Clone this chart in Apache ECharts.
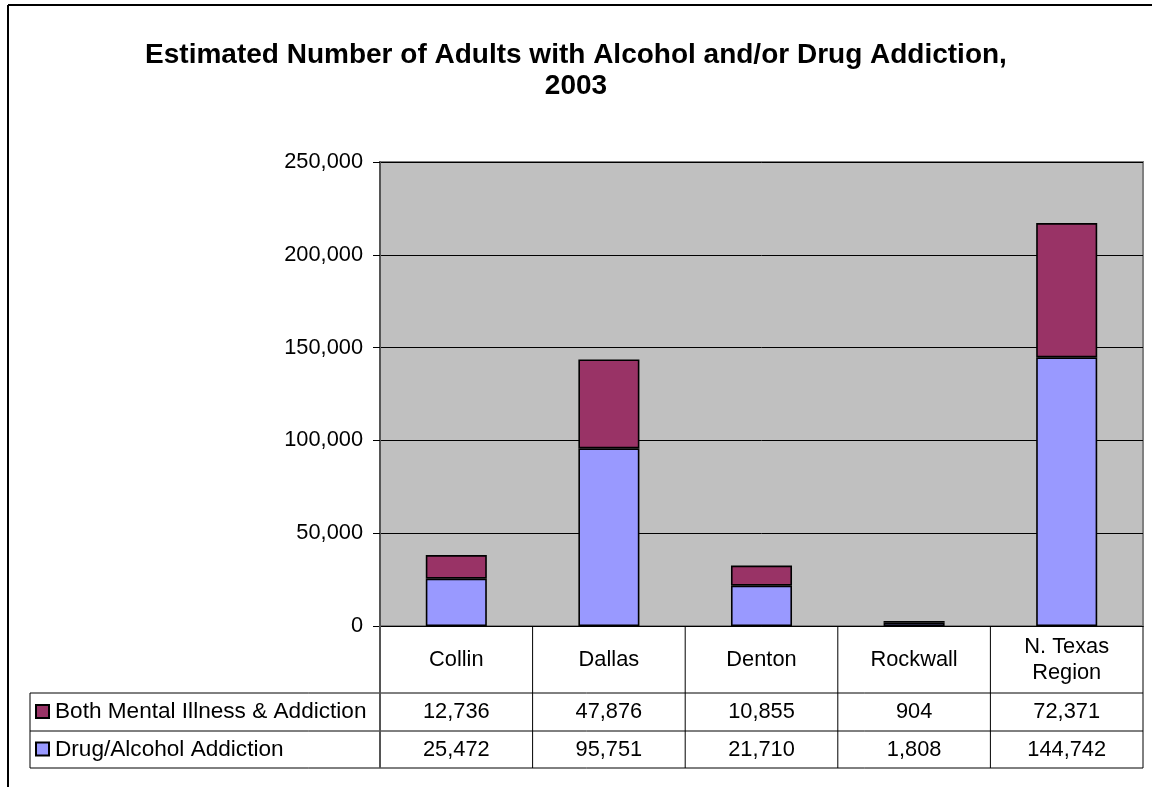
<!DOCTYPE html>
<html>
<head>
<meta charset="utf-8">
<script src="https://cdn.jsdelivr.net/npm/echarts@6/dist/echarts.min.js"></script>
<style>
html,body{margin:0;padding:0;background:#fff;}
#chart{width:1152px;height:787px;}
</style>
</head>
<body>
<div id="chart"></div>
<script>
const titleText = 'Estimated Number of Adults with Alcohol and/or Drug Addiction,\n2003';
const categories = ['Collin', 'Dallas', 'Denton', 'Rockwall', 'N. Texas\nRegion'];
const drugAlcohol = [25472, 95751, 21710, 1808, 144742];
const bothMental = [12736, 47876, 10855, 904, 72371];
const nameDrug = 'Drug/Alcohol Addiction';
const nameBoth = 'Both Mental Illness & Addiction';
const yMin = 0, yMax = 250000, yInterval = 50000;

const colorDrug = '#9999ff';
const colorBoth = '#993366';
const FONT = '"Liberation Sans", Arial, sans-serif';
const FS = 21.8;

const chart = echarts.init(document.getElementById('chart'), null, {renderer: 'canvas'});
const fmt = v => v.toLocaleString('en-US');

chart.setOption({
  animation: false,
  backgroundColor: '#fff',
  textStyle: {fontFamily: FONT},
  grid: {
    left: 380, right: 9, top: 162, bottom: 161,
    show: true, backgroundColor: '#c0c0c0', borderColor: '#808080', borderWidth: 2
  },
  xAxis: {
    type: 'category',
    data: categories,
    axisLine: {show: true, lineStyle: {color: '#000', width: 1}},
    axisTick: {show: false},
    axisLabel: {
      show: true, interval: 0, margin: 34, verticalAlign: 'middle',
      fontFamily: FONT, fontSize: FS, color: '#000', lineHeight: 26
    },
    splitLine: {show: false}
  },
  yAxis: {
    type: 'value',
    min: yMin, max: yMax, interval: yInterval,
    axisLine: {show: true, lineStyle: {color: '#555', width: 2}},
    axisTick: {show: true, length: 7, lineStyle: {color: '#000', width: 1}},
    axisLabel: {margin: 17, fontFamily: FONT, fontSize: FS, color: '#000', formatter: v => fmt(v)},
    splitLine: {show: true, lineStyle: {color: '#000', width: 1}}
  },
  series: [
    {
      name: nameDrug, type: 'bar', stack: 'total', data: drugAlcohol,
      barWidth: '40%',
      itemStyle: {color: colorDrug, borderColor: '#000', borderWidth: 1.6}
    },
    {
      name: nameBoth, type: 'bar', stack: 'total', data: bothMental,
      barWidth: '40%',
      itemStyle: {color: colorBoth, borderColor: '#000', borderWidth: 1.6}
    }
  ]
});

// Data table below the plot, positioned from the category axis scale
const cx = categories.map((c, i) => chart.convertToPixel({xAxisIndex: 0}, i));
const band = cx.length > 1 ? cx[1] - cx[0] : 150;
const bounds = cx.map(c => c - band / 2);
bounds.push(cx[cx.length - 1] + band / 2);
const axisY = chart.convertToPixel({yAxisIndex: 0}, 0);
const row1Top = axisY + 67, row2Top = axisY + 105, tableBottom = axisY + 142;
const tableLeft = 30;
const g = [];
const lineStyle = {stroke: '#000', lineWidth: 1};
function line(x1, y1, x2, y2, style) {
  g.push({type: 'line', shape: {x1, y1, x2, y2}, style: style || lineStyle, z: 100, silent: true});
}
// title
g.push({type: 'text', x: 576, y: 40, style: {text: titleText, font: 'bold 28px ' + FONT, fill: '#000',
  textAlign: 'center', textVerticalAlign: 'top', lineHeight: 31}, z: 100, silent: true});
// horizontal lines
line(tableLeft, row1Top, bounds[bounds.length - 1], row1Top);
line(tableLeft, row2Top, bounds[bounds.length - 1], row2Top);
line(tableLeft, tableBottom, bounds[bounds.length - 1], tableBottom);
// vertical lines
line(tableLeft, row1Top, tableLeft, tableBottom);
bounds.forEach((b, i) => {
  if (i === 0) line(b, axisY, b, tableBottom, {stroke: '#555', lineWidth: 2});
  else line(b, axisY, b, tableBottom);
});
const rows = [
  {name: nameBoth, color: colorBoth, values: bothMental, top: row1Top, bottom: row2Top},
  {name: nameDrug, color: colorDrug, values: drugAlcohol, top: row2Top, bottom: tableBottom}
];
rows.forEach(r => {
  const cy = (r.top + r.bottom) / 2;
  g.push({type: 'rect', shape: {x: 36, y: cy - 7, width: 13, height: 13},
    style: {fill: r.color, stroke: '#000', lineWidth: 2}, z: 100, silent: true});
  g.push({type: 'text', x: 55, y: cy, style: {text: r.name, font: '22.6px ' + FONT, fill: '#000',
    textAlign: 'left', textVerticalAlign: 'middle'}, z: 100, silent: true});
  r.values.forEach((v, i) => {
    g.push({type: 'text', x: cx[i], y: cy, style: {text: fmt(v), font: FS + 'px ' + FONT, fill: '#000',
      textAlign: 'center', textVerticalAlign: 'middle'}, z: 100, silent: true});
  });
});
// outer chart frame
line(8, 5, 1152, 5, {stroke: '#000', lineWidth: 2});
line(8, 5, 8, 787, {stroke: '#000', lineWidth: 2});
chart.setOption({graphic: g});
</script>
</body>
</html>
